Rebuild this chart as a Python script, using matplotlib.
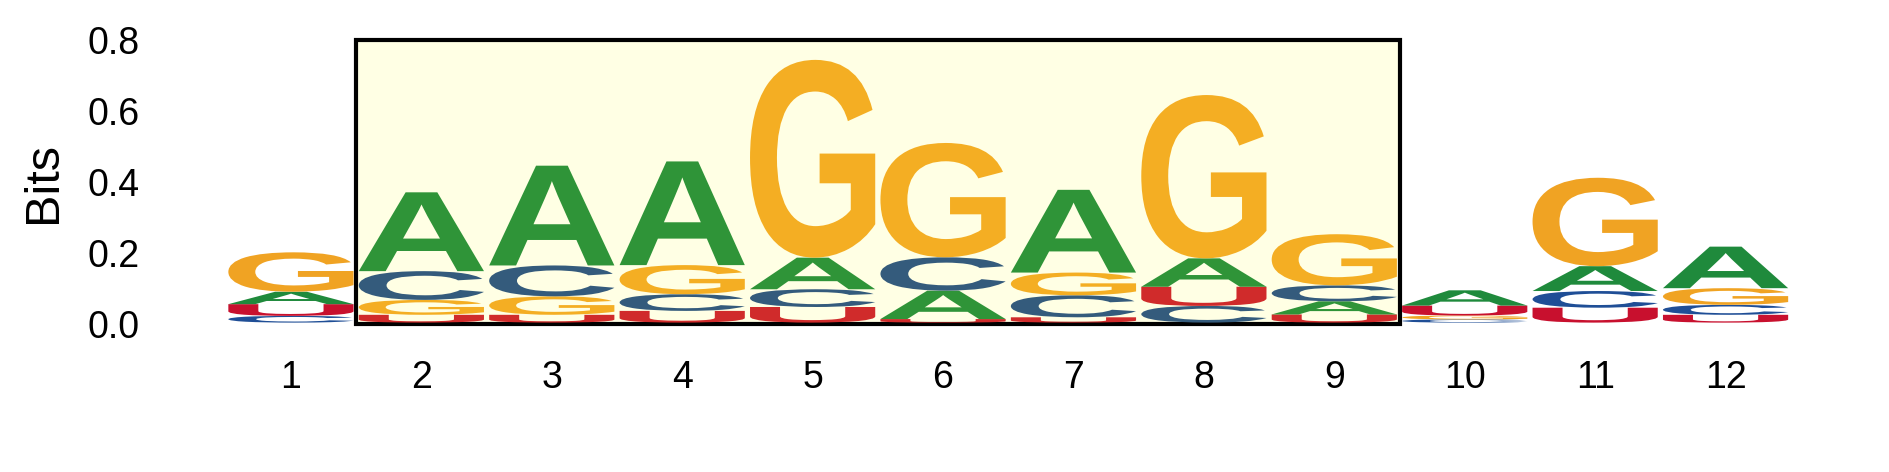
import numpy as np
import matplotlib
matplotlib.use("Agg")
import matplotlib.pyplot as plt
from matplotlib.textpath import TextPath
from matplotlib.font_manager import FontProperties
from matplotlib.patches import PathPatch, Rectangle
from matplotlib.transforms import Affine2D

# bits per letter at each position
positions = list(range(1, 13))
bits_A = [0.035, 0.222, 0.281, 0.292, 0.089, 0.080, 0.233, 0.080, 0.037, 0.043, 0.070, 0.117]
bits_C = [0.019, 0.081, 0.087, 0.047, 0.050, 0.094, 0.062, 0.047, 0.045, 0.009, 0.047, 0.028]
bits_G = [0.111, 0.042, 0.052, 0.082, 0.557, 0.322, 0.064, 0.460, 0.144, 0.011, 0.249, 0.047]
bits_U = [0.033, 0.022, 0.022, 0.033, 0.044, 0.010, 0.015, 0.054, 0.023, 0.028, 0.042, 0.022]
box_start, box_end = 2, 9
yticks = [0.0, 0.2, 0.4, 0.6, 0.8]

col_in = {"A": "#2f9438", "C": "#345b7c", "G": "#f4ae23", "U": "#d02b2b"}
col_out = {"A": "#1f8a3c", "C": "#1f4e96", "G": "#f0a323", "U": "#c8102e"}

fp = FontProperties(family="Liberation Sans", weight="bold")
letter_paths = {}
for ch in "ACGU":
    p = TextPath((0, 0), ch, size=1, prop=fp)
    letter_paths[ch] = (p, p.get_extents())

def draw_letter(ax, ch, xc, y0, h, w, color):
    p, ext = letter_paths[ch]
    t = Affine2D().translate(-ext.x0, -ext.y0).scale(w / ext.width, h / ext.height).translate(xc - w / 2, y0)
    ax.add_patch(PathPatch(t.transform_path(p), facecolor=color, edgecolor="none", zorder=3))

fig = plt.figure(figsize=(18.89, 4.72), dpi=100)
ax = fig.add_axes([0.1195, 0.2909, 0.8285, 0.6394])

# highlighted region
ax.add_patch(Rectangle((box_start - 0.5, 0.0), box_end - box_start + 1.0, 0.8,
                       facecolor="#ffffe4", edgecolor="black", linewidth=3, zorder=1, clip_on=False))

width = 0.96
for i, pos in enumerate(positions):
    vals = {"A": bits_A[i], "C": bits_C[i], "G": bits_G[i], "U": bits_U[i]}
    cols = col_in if box_start <= pos <= box_end else col_out
    y = 0.004
    for ch in sorted(vals, key=lambda k: vals[k]):
        draw_letter(ax, ch, pos, y, vals[ch], width, cols[ch])
        y += vals[ch]

ax.set_xlim(0.5, 12.5)
ax.set_ylim(-0.03, 0.82)
ax.set_xticks(positions)
ax.set_xticklabels([str(p) for p in positions])
ax.set_yticks(yticks)
ax.set_yticklabels(["%.1f" % v for v in yticks])
for s in ax.spines.values():
    s.set_visible(False)
ax.tick_params(axis="both", length=0, labelsize=27)
ax.tick_params(axis="y", pad=62)
ax.tick_params(axis="x", pad=18)
for lab in ax.get_xticklabels() + ax.get_yticklabels():
    lab.set_family("Liberation Sans")

fig.text(43 / 1889, 1 - 182 / 472, "Bits", rotation=90, ha="center", va="center",
         fontsize=35, family="Liberation Sans")

fig.savefig("out.png", dpi=100)
